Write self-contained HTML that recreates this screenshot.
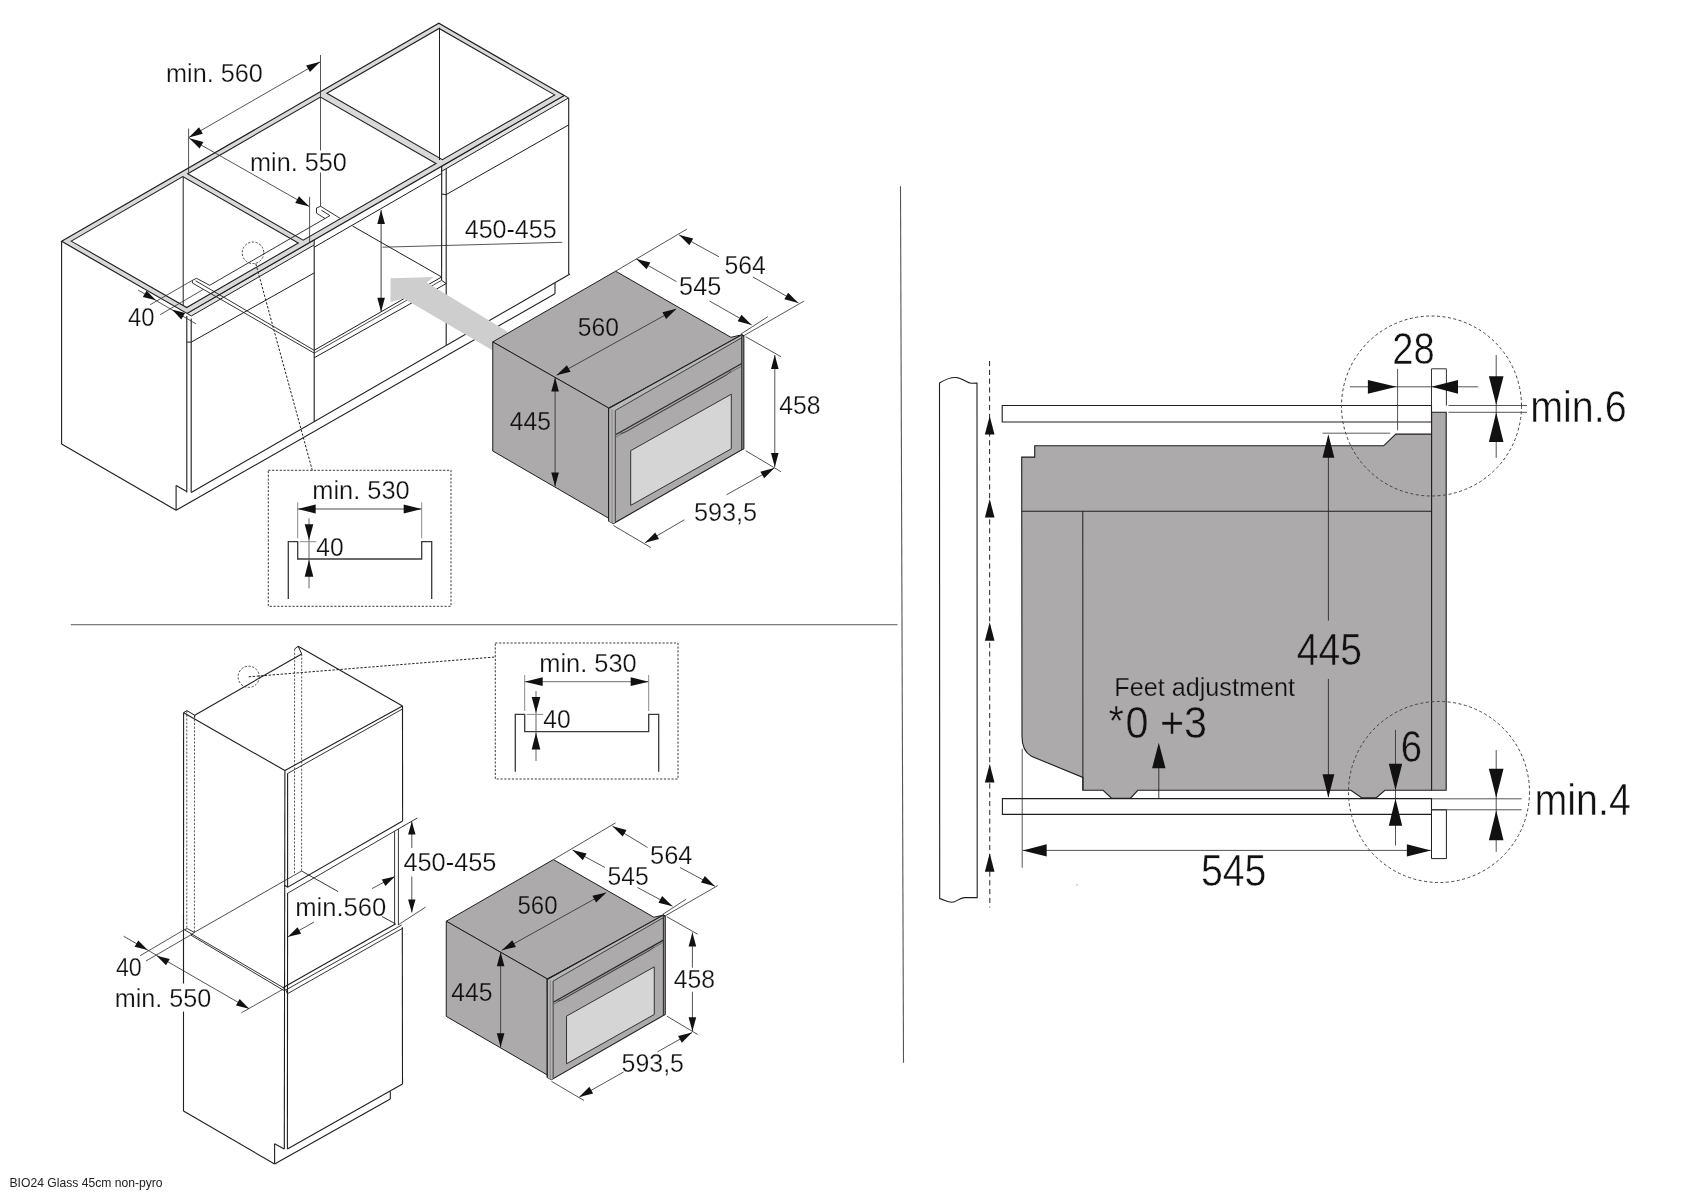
<!DOCTYPE html>
<html><head><meta charset="utf-8"><title>BIO24 installation</title>
<style>
html,body{margin:0;padding:0;background:#fff;}
body{width:1697px;height:1200px;overflow:hidden;}
svg{display:block;font-family:"Liberation Sans",sans-serif;will-change:transform;}
</style></head><body>
<svg width="1697" height="1200" viewBox="0 0 1697 1200">
<rect x="0" y="0" width="1697" height="1200" fill="#fff"/>
<line x1="70.8" y1="624.7" x2="897.5" y2="624.7" stroke="#555" stroke-width="1.1"/>
<line x1="900.5" y1="186.3" x2="903.5" y2="1062.7" stroke="#555" stroke-width="1.1"/>
<line x1="61.6" y1="241.3" x2="61.6" y2="444" stroke="#1e1e1e" stroke-width="1.1"/>
<line x1="61.6" y1="444" x2="176.1" y2="510.3" stroke="#1e1e1e" stroke-width="1.1"/>
<line x1="176.1" y1="485.6" x2="176.1" y2="510.3" stroke="#1e1e1e" stroke-width="1.1"/>
<line x1="176.1" y1="485.6" x2="186.7" y2="491.5" stroke="#1e1e1e" stroke-width="1.1"/>
<line x1="186.8" y1="316" x2="186.8" y2="492.6" stroke="#1e1e1e" stroke-width="1.1"/>
<line x1="191.2" y1="318.5" x2="191.2" y2="492.6" stroke="#1e1e1e" stroke-width="1.1"/>
<line x1="191.2" y1="492.6" x2="570" y2="274" stroke="#1e1e1e" stroke-width="1.1"/>
<line x1="176.1" y1="510.3" x2="555" y2="293.7" stroke="#1e1e1e" stroke-width="1.1"/>
<line x1="555" y1="282.8" x2="555" y2="293.7" stroke="#1e1e1e" stroke-width="1.1"/>
<line x1="568.7" y1="98" x2="568.7" y2="274" stroke="#1e1e1e" stroke-width="1.1"/>
<line x1="183.2" y1="176.8" x2="183.2" y2="305" stroke="#1e1e1e" stroke-width="1"/>
<line x1="439.5" y1="27.7" x2="439.5" y2="160" stroke="#1e1e1e" stroke-width="1"/>
<line x1="191.1" y1="342.2" x2="314" y2="273" stroke="#1e1e1e" stroke-width="1"/>
<line x1="186.8" y1="342" x2="191.1" y2="342.2" stroke="#1e1e1e" stroke-width="1"/>
<line x1="446" y1="194.7" x2="568.7" y2="124.9" stroke="#1e1e1e" stroke-width="1"/>
<line x1="441.7" y1="194" x2="446" y2="194.7" stroke="#1e1e1e" stroke-width="1"/>
<line x1="314.2" y1="245.5" x2="314.2" y2="422" stroke="#1e1e1e" stroke-width="1.1"/>
<line x1="441.7" y1="166" x2="441.6" y2="280.3" stroke="#1e1e1e" stroke-width="1.1"/>
<line x1="446.2" y1="168.5" x2="446.2" y2="345" stroke="#1e1e1e" stroke-width="1.1"/>
<line x1="314.2" y1="247.2" x2="441.7" y2="173.5" stroke="#1e1e1e" stroke-width="1"/>
<line x1="352.5" y1="226" x2="441" y2="276.6" stroke="#1e1e1e" stroke-width="1"/>
<line x1="314.2" y1="350.3" x2="441.6" y2="277" stroke="#1e1e1e" stroke-width="1"/>
<line x1="314.2" y1="353.1" x2="441.6" y2="280.3" stroke="#1e1e1e" stroke-width="0.8"/>
<line x1="314.2" y1="357.8" x2="446.2" y2="283.6" stroke="#1e1e1e" stroke-width="1"/>
<line x1="441.6" y1="280.3" x2="446.2" y2="283.6" stroke="#1e1e1e" stroke-width="1"/>
<polygon points="187,313.4 314.2,239.89 314.2,244.95 191.39,315.92" fill="#e4e3e4" stroke="#1e1e1e" stroke-width="1" stroke-linejoin="miter"/>
<polygon points="441.7,166.2 564.2,95.4 568.59,97.92 441.7,171.26" fill="#e4e3e4" stroke="#1e1e1e" stroke-width="1" stroke-linejoin="miter"/>
<polygon points="61.6,241.3 438.8,23.3 564.2,95.4 187,313.4" fill="#dad9da" stroke="#1e1e1e" stroke-width="1.2" stroke-linejoin="miter"/>
<polygon points="71.18,241.11 182.79,176.61 298.29,243.01 186.67,307.52" fill="#fff" stroke="#1e1e1e" stroke-width="1.1" stroke-linejoin="miter"/>
<polygon points="187.7,173.77 320.47,97.04 435.97,163.44 303.19,240.18" fill="#fff" stroke="#1e1e1e" stroke-width="1.1" stroke-linejoin="miter"/>
<polygon points="326.88,93.33 439.1,28.47 554.6,94.88 442.38,159.73" fill="#fff" stroke="#1e1e1e" stroke-width="1.1" stroke-linejoin="miter"/>
<line x1="183.2" y1="176.8" x2="183.2" y2="305" stroke="#1e1e1e" stroke-width="1"/>
<line x1="439.5" y1="27.7" x2="439.5" y2="160" stroke="#1e1e1e" stroke-width="1"/>
<polyline points="192.4,283 192.4,280.3 196.5,278.3 209.7,285.3" fill="none" stroke="#1e1e1e" stroke-width="0.9" stroke-linejoin="miter"/>
<line x1="209.7" y1="285.3" x2="325" y2="218.5" stroke="#1e1e1e" stroke-width="0.9"/>
<line x1="192.4" y1="283" x2="314.2" y2="353.1" stroke="#1e1e1e" stroke-width="0.9"/>
<line x1="195.7" y1="280.8" x2="314.2" y2="350.3" stroke="#1e1e1e" stroke-width="0.9"/>
<polyline points="316.5,213.2 316.5,208 320.7,206.3 340.5,218.6" fill="none" stroke="#1e1e1e" stroke-width="0.9" stroke-linejoin="miter"/>
<polyline points="316.5,213.2 325,218.5 330,215.6 321.5,210.3" fill="none" stroke="#1e1e1e" stroke-width="0.9" stroke-linejoin="miter"/>
<polygon points="390.5,278.2 433.8,276.9 426.7,282.6 508,332 492,350 403.7,298.5 390.5,302" fill="#cfcecf" stroke="none" stroke-width="1" stroke-linejoin="miter"/>
<line x1="320.5" y1="55" x2="320.5" y2="150.5" stroke="#2a2a2a" stroke-width="0.8"/>
<line x1="320.5" y1="172.5" x2="320.5" y2="206.3" stroke="#2a2a2a" stroke-width="0.8"/>
<line x1="188.6" y1="128.5" x2="188.6" y2="172.5" stroke="#2a2a2a" stroke-width="0.8"/>
<line x1="320.2" y1="61.8" x2="188.8" y2="137.5" stroke="#2a2a2a" stroke-width="0.8"/>
<polygon points="320.2,61.8 309.97,72.08 306.17,65.5" fill="#111" stroke="none" stroke-width="1" stroke-linejoin="miter"/>
<polygon points="188.8,137.5 199.03,127.22 202.83,133.8" fill="#111" stroke="none" stroke-width="1" stroke-linejoin="miter"/>
<text x="166" y="81.7" font-size="25.5" textLength="96.8" lengthAdjust="spacingAndGlyphs" fill="#111" font-weight="normal" stroke="#fff" stroke-width="0.25">min. 560</text>
<line x1="189.3" y1="138.3" x2="309.3" y2="206.5" stroke="#2a2a2a" stroke-width="0.8"/>
<polygon points="189.3,138.3 203.35,141.91 199.59,148.52" fill="#111" stroke="none" stroke-width="1" stroke-linejoin="miter"/>
<polygon points="309.3,206.5 295.25,202.89 299.01,196.28" fill="#111" stroke="none" stroke-width="1" stroke-linejoin="miter"/>
<line x1="309.6" y1="196.8" x2="309.6" y2="242.5" stroke="#2a2a2a" stroke-width="0.8"/>
<text x="250" y="170.5" font-size="25.5" textLength="96.8" lengthAdjust="spacingAndGlyphs" fill="#111" font-weight="normal" stroke="#fff" stroke-width="0.25">min. 550</text>
<line x1="381.1" y1="210.1" x2="381.1" y2="311.7" stroke="#2a2a2a" stroke-width="0.9"/>
<polygon points="381.1,210.1 384.9,224.1 377.3,224.1" fill="#111" stroke="none" stroke-width="1" stroke-linejoin="miter"/>
<polygon points="381.1,311.7 377.3,297.7 384.9,297.7" fill="#111" stroke="none" stroke-width="1" stroke-linejoin="miter"/>
<line x1="382.5" y1="247.2" x2="562.3" y2="242.3" stroke="#2a2a2a" stroke-width="0.8"/>
<text x="464.7" y="237.9" font-size="25.5" textLength="92" lengthAdjust="spacingAndGlyphs" fill="#111" font-weight="normal" stroke="#fff" stroke-width="0.25">450-455</text>
<line x1="138.2" y1="290.1" x2="195.9" y2="323.8" stroke="#2a2a2a" stroke-width="0.8"/>
<line x1="150.2" y1="304.7" x2="192.3" y2="280.4" stroke="#2a2a2a" stroke-width="0.8"/>
<line x1="160.2" y1="314.7" x2="203.3" y2="289.4" stroke="#2a2a2a" stroke-width="0.8"/>
<polygon points="156,300.3 142.88,297.05 146.56,290.63" fill="#111" stroke="none" stroke-width="1" stroke-linejoin="miter"/>
<polygon points="172,309.6 185.07,313.06 181.29,319.42" fill="#111" stroke="none" stroke-width="1" stroke-linejoin="miter"/>
<text x="127.9" y="325.9" font-size="25.5" textLength="26.5" lengthAdjust="spacingAndGlyphs" fill="#111" font-weight="normal" stroke="#fff" stroke-width="0.25">40</text>
<circle cx="253" cy="252.8" r="10.8" fill="none" stroke="#333" stroke-width="0.9" stroke-dasharray="2.2 1.6"/>
<line x1="255.8" y1="263.7" x2="312.3" y2="470.3" stroke="#222" stroke-width="1" stroke-dasharray="2.4 1.6"/>
<polygon points="492.75,341.9 615.6,271.2 730.9,337.3 741.8,334.8 743.7,336 608.6,408" fill="#acaaab" stroke="#1e1e1e" stroke-width="1" stroke-linejoin="miter"/>
<polygon points="492.75,341.9 608.6,408 610,519 492.75,451" fill="#acaaab" stroke="#1e1e1e" stroke-width="1" stroke-linejoin="miter"/>
<polygon points="608.6,408.6 741.8,334.8 743.7,336 743.7,448.8 613.4,523.6 608.6,521" fill="#acaaab" stroke="#1e1e1e" stroke-width="1.1" stroke-linejoin="miter"/>
<polygon points="608.6,408.6 615.3,410.5 615.3,522.3 613.4,523.6 608.6,521" fill="#b6b5b6" stroke="none" stroke-width="1" stroke-linejoin="miter"/>
<polygon points="608.6,408.6 741.8,334.8 741.8,337.7 615.3,410.5" fill="#bab9ba" stroke="none" stroke-width="1" stroke-linejoin="miter"/>
<polygon points="741.8,336 743.7,336 743.7,448.8 741.8,449.6" fill="#b6b5b6" stroke="#1e1e1e" stroke-width="0.8" stroke-linejoin="miter"/>
<polyline points="608.6,521 608.6,408.6 741.8,334.8 743.7,336" fill="none" stroke="#1e1e1e" stroke-width="1.1" stroke-linejoin="miter"/>
<line x1="615.3" y1="410.5" x2="615.3" y2="522.3" stroke="#333" stroke-width="0.9"/>
<line x1="612" y1="409.6" x2="612" y2="523" stroke="#666" stroke-width="0.6"/>
<line x1="615.3" y1="410.5" x2="741.8" y2="337.7" stroke="#333" stroke-width="0.9"/>
<line x1="741.8" y1="336.5" x2="741.8" y2="449.6" stroke="#333" stroke-width="0.9"/>
<line x1="616" y1="434.5" x2="741.8" y2="363.5" stroke="#2a2a2a" stroke-width="1.3"/>
<line x1="616" y1="437" x2="741.8" y2="366" stroke="#555" stroke-width="0.7"/>
<polyline points="620.5,433.6 626,431.8 726.5,375 731,371" fill="none" stroke="#333" stroke-width="0.8" stroke-linejoin="miter"/>
<polygon points="630.7,450.7 731.3,394.2 731.3,448.8 630.7,505.4" fill="#d6d5d6" stroke="#333" stroke-width="1" stroke-linejoin="miter"/>
<line x1="556.5" y1="375.3" x2="675.5" y2="309.3" stroke="#2a2a2a" stroke-width="0.8"/>
<polygon points="556.5,375.3 566.9,365.19 570.59,371.83" fill="#111" stroke="none" stroke-width="1" stroke-linejoin="miter"/>
<polygon points="676.5,308.8 666.1,318.91 662.41,312.26" fill="#111" stroke="none" stroke-width="1" stroke-linejoin="miter"/>
<line x1="555.1" y1="377.5" x2="555.1" y2="486.4" stroke="#2a2a2a" stroke-width="0.8"/>
<polygon points="555.1,377.5 558.9,391.5 551.3,391.5" fill="#111" stroke="none" stroke-width="1" stroke-linejoin="miter"/>
<polygon points="555.1,486.4 551.3,472.4 558.9,472.4" fill="#111" stroke="none" stroke-width="1" stroke-linejoin="miter"/>
<line x1="615.6" y1="271.2" x2="686.9" y2="229.1" stroke="#2a2a2a" stroke-width="0.8"/>
<line x1="679.1" y1="234.9" x2="719" y2="256.8" stroke="#2a2a2a" stroke-width="0.8"/>
<line x1="753" y1="277" x2="798.4" y2="303" stroke="#2a2a2a" stroke-width="0.8"/>
<polygon points="679.1,234.9 693.14,238.54 689.37,245.14" fill="#111" stroke="none" stroke-width="1" stroke-linejoin="miter"/>
<polygon points="798.4,303 784.36,299.36 788.13,292.76" fill="#111" stroke="none" stroke-width="1" stroke-linejoin="miter"/>
<line x1="636.3" y1="258.9" x2="676.5" y2="281.6" stroke="#2a2a2a" stroke-width="0.8"/>
<line x1="709.5" y1="301" x2="751.7" y2="325" stroke="#2a2a2a" stroke-width="0.8"/>
<polygon points="636.3,258.9 650.34,262.56 646.56,269.16" fill="#111" stroke="none" stroke-width="1" stroke-linejoin="miter"/>
<polygon points="751.7,325 737.66,321.34 741.44,314.74" fill="#111" stroke="none" stroke-width="1" stroke-linejoin="miter"/>
<line x1="741" y1="334" x2="767.9" y2="316.6" stroke="#2a2a2a" stroke-width="0.8"/>
<line x1="744" y1="335.6" x2="804.2" y2="301" stroke="#2a2a2a" stroke-width="0.8"/>
<line x1="745.7" y1="336.7" x2="781.1" y2="356.8" stroke="#2a2a2a" stroke-width="0.8"/>
<line x1="745.7" y1="450.7" x2="781.1" y2="471.8" stroke="#2a2a2a" stroke-width="0.8"/>
<line x1="774.8" y1="355" x2="774.8" y2="467" stroke="#2a2a2a" stroke-width="0.8"/>
<polygon points="774.8,355 778.6,369 771,369" fill="#111" stroke="none" stroke-width="1" stroke-linejoin="miter"/>
<polygon points="774.8,467 771,453 778.6,453" fill="#111" stroke="none" stroke-width="1" stroke-linejoin="miter"/>
<line x1="613.4" y1="525.5" x2="650.8" y2="547.5" stroke="#2a2a2a" stroke-width="0.8"/>
<line x1="645" y1="542.8" x2="684.3" y2="519.8" stroke="#2a2a2a" stroke-width="0.8"/>
<line x1="726.5" y1="494.8" x2="774.4" y2="468" stroke="#2a2a2a" stroke-width="0.8"/>
<polygon points="645,542.8 655.22,532.5 659.02,539.08" fill="#111" stroke="none" stroke-width="1" stroke-linejoin="miter"/>
<polygon points="774.4,468 764.18,478.3 760.38,471.72" fill="#111" stroke="none" stroke-width="1" stroke-linejoin="miter"/>
<text x="724.5" y="273.8" font-size="25.5" textLength="41.4" lengthAdjust="spacingAndGlyphs" fill="#111" font-weight="normal" stroke="#fff" stroke-width="0.25">564</text>
<text x="679.1" y="295.2" font-size="25.5" textLength="42.1" lengthAdjust="spacingAndGlyphs" fill="#111" font-weight="normal" stroke="#fff" stroke-width="0.25">545</text>
<text x="577.8" y="336.2" font-size="25.5" textLength="41.1" lengthAdjust="spacingAndGlyphs" fill="#111" font-weight="normal" stroke="#acaaab" stroke-width="0.25">560</text>
<text x="509.8" y="429.7" font-size="25.5" textLength="41.1" lengthAdjust="spacingAndGlyphs" fill="#111" font-weight="normal" stroke="#acaaab" stroke-width="0.25">445</text>
<text x="779.2" y="414.3" font-size="25.5" textLength="41.2" lengthAdjust="spacingAndGlyphs" fill="#111" font-weight="normal" stroke="#fff" stroke-width="0.25">458</text>
<text x="693.9" y="520.5" font-size="25.5" textLength="63.3" lengthAdjust="spacingAndGlyphs" fill="#111" font-weight="normal" stroke="#fff" stroke-width="0.25">593,5</text>
<rect x="268.3" y="470.3" width="182.7" height="136" fill="none" stroke="#3a3a3a" stroke-width="1" stroke-dasharray="2.2 1.6"/>
<text x="312.3" y="499" font-size="25.5" textLength="97.4" lengthAdjust="spacingAndGlyphs" fill="#111" font-weight="normal" stroke="#fff" stroke-width="0.25">min. 530</text>
<line x1="297.7" y1="509" x2="421.7" y2="509" stroke="#8a8a8a" stroke-width="1.3"/>
<polygon points="297.7,509 315.7,504.6 315.7,513.4" fill="#111" stroke="none" stroke-width="1" stroke-linejoin="miter"/>
<polygon points="421.7,509 403.7,513.4 403.7,504.6" fill="#111" stroke="none" stroke-width="1" stroke-linejoin="miter"/>
<line x1="297.7" y1="502.3" x2="297.7" y2="538.3" stroke="#8a8a8a" stroke-width="1"/>
<line x1="421.7" y1="502.3" x2="421.7" y2="538.3" stroke="#8a8a8a" stroke-width="1"/>
<polyline points="288.3,599 288.3,541.7 297.7,541.7 297.7,559 421.7,559 421.7,541.7 431.7,541.7 431.7,599" fill="none" stroke="#3a3a3a" stroke-width="1.3" stroke-linejoin="miter"/>
<line x1="309" y1="518.3" x2="309" y2="588.3" stroke="#555" stroke-width="0.9"/>
<polygon points="309,540.3 304.7,524.3 313.3,524.3" fill="#111" stroke="none" stroke-width="1" stroke-linejoin="miter"/>
<polygon points="309,559.7 313.3,576.7 304.7,576.7" fill="#111" stroke="none" stroke-width="1" stroke-linejoin="miter"/>
<line x1="299.7" y1="541.7" x2="316.3" y2="541.7" stroke="#8a8a8a" stroke-width="1"/>
<text x="316.3" y="555.7" font-size="25.5" textLength="27.4" lengthAdjust="spacingAndGlyphs" fill="#111" font-weight="normal" stroke="#fff" stroke-width="0.25">40</text>
<line x1="183.6" y1="712.5" x2="183.5" y2="983.4" stroke="#1e1e1e" stroke-width="1.1"/>
<line x1="183.5" y1="1011.6" x2="183.5" y2="1111.1" stroke="#1e1e1e" stroke-width="1.1"/>
<line x1="186.8" y1="711" x2="186.8" y2="929" stroke="#333" stroke-width="0.8" stroke-dasharray="2.2 1.5"/>
<line x1="194.5" y1="715.5" x2="194.4" y2="932.3" stroke="#333" stroke-width="0.8" stroke-dasharray="2.2 1.5"/>
<polyline points="183.7,712.6 186.8,710.6 194.7,715.2 194.7,717.5" fill="none" stroke="#1e1e1e" stroke-width="1" stroke-linejoin="miter"/>
<line x1="194.7" y1="715.2" x2="301.7" y2="653.9" stroke="#1e1e1e" stroke-width="1.1"/>
<polyline points="294.6,649 298.2,646.3 301.7,653.9" fill="none" stroke="#1e1e1e" stroke-width="1" stroke-linejoin="miter"/>
<line x1="298.2" y1="646.3" x2="402.5" y2="706" stroke="#1e1e1e" stroke-width="1.1"/>
<line x1="183.7" y1="712.8" x2="284.9" y2="770.5" stroke="#1e1e1e" stroke-width="1.1"/>
<line x1="284.9" y1="770.5" x2="402.5" y2="706" stroke="#1e1e1e" stroke-width="1.1"/>
<line x1="287.6" y1="773.5" x2="402.5" y2="709" stroke="#1e1e1e" stroke-width="0.9"/>
<line x1="402.5" y1="706" x2="402.6" y2="821" stroke="#1e1e1e" stroke-width="1.1"/>
<line x1="284.9" y1="770.5" x2="284.3" y2="1149" stroke="#1e1e1e" stroke-width="1.1"/>
<line x1="287.6" y1="773.5" x2="287.6" y2="887.2" stroke="#1e1e1e" stroke-width="1.1"/>
<line x1="287.6" y1="892.9" x2="287.4" y2="1149" stroke="#1e1e1e" stroke-width="1.1"/>
<line x1="294.6" y1="649" x2="294.5" y2="874.5" stroke="#333" stroke-width="0.8" stroke-dasharray="2.2 1.5"/>
<line x1="301.7" y1="654" x2="301.6" y2="871" stroke="#333" stroke-width="0.8" stroke-dasharray="2.2 1.5"/>
<polyline points="284.2,885 287.7,887.2 402.6,821" fill="none" stroke="#1e1e1e" stroke-width="1.1" stroke-linejoin="miter"/>
<line x1="287.7" y1="893.2" x2="417.3" y2="818" stroke="#1e1e1e" stroke-width="0.9"/>
<line x1="394.6" y1="831.2" x2="394.6" y2="924" stroke="#1e1e1e" stroke-width="0.9"/>
<line x1="398.4" y1="828.8" x2="398.4" y2="925" stroke="#1e1e1e" stroke-width="0.9"/>
<line x1="301.6" y1="871" x2="338" y2="891.5" stroke="#1e1e1e" stroke-width="0.9"/>
<line x1="382" y1="916.5" x2="394.9" y2="923.5" stroke="#1e1e1e" stroke-width="0.9"/>
<line x1="283.3" y1="987.5" x2="395.8" y2="923.7" stroke="#1e1e1e" stroke-width="1.1"/>
<line x1="285.8" y1="990" x2="401.7" y2="925" stroke="#1e1e1e" stroke-width="0.9"/>
<line x1="287.5" y1="993.7" x2="402.5" y2="928.3" stroke="#1e1e1e" stroke-width="0.9"/>
<polyline points="283.3,987.5 285.8,990 287.5,993.7" fill="none" stroke="#1e1e1e" stroke-width="0.9" stroke-linejoin="miter"/>
<line x1="194.3" y1="932.4" x2="301.6" y2="871" stroke="#1e1e1e" stroke-width="0.8"/>
<line x1="184.3" y1="929.7" x2="283.9" y2="988" stroke="#1e1e1e" stroke-width="0.9"/>
<line x1="190.7" y1="935" x2="283.9" y2="990.5" stroke="#1e1e1e" stroke-width="0.9"/>
<polyline points="184.3,929.7 187.2,928.6 194.3,932.4 190.7,935" fill="none" stroke="#1e1e1e" stroke-width="0.9" stroke-linejoin="miter"/>
<line x1="402.3" y1="927.3" x2="402.5" y2="1084" stroke="#1e1e1e" stroke-width="1.1"/>
<line x1="183.5" y1="1111.1" x2="274.6" y2="1164" stroke="#1e1e1e" stroke-width="1.1"/>
<line x1="274.6" y1="1143.7" x2="274.6" y2="1164" stroke="#1e1e1e" stroke-width="1.1"/>
<line x1="274.6" y1="1143.7" x2="284.3" y2="1149" stroke="#1e1e1e" stroke-width="1.1"/>
<line x1="287.4" y1="1149" x2="402.5" y2="1084" stroke="#1e1e1e" stroke-width="1.1"/>
<line x1="274.6" y1="1164" x2="390.3" y2="1099" stroke="#1e1e1e" stroke-width="1.1"/>
<line x1="390.3" y1="1091.5" x2="390.3" y2="1099" stroke="#1e1e1e" stroke-width="1.1"/>
<line x1="123.6" y1="936.2" x2="249.1" y2="1008.7" stroke="#2a2a2a" stroke-width="0.8"/>
<polygon points="147.7,950.1 134.59,946.81 138.29,940.4" fill="#111" stroke="none" stroke-width="1" stroke-linejoin="miter"/>
<polygon points="156.6,955.7 169.72,958.95 166.04,965.37" fill="#111" stroke="none" stroke-width="1" stroke-linejoin="miter"/>
<polygon points="249.1,1008.7 235.98,1005.45 239.66,999.03" fill="#111" stroke="none" stroke-width="1" stroke-linejoin="miter"/>
<line x1="140.1" y1="955.7" x2="184.3" y2="929.7" stroke="#2a2a2a" stroke-width="0.8"/>
<line x1="146" y1="961" x2="190.7" y2="935" stroke="#2a2a2a" stroke-width="0.8"/>
<line x1="241.4" y1="1012.8" x2="283.9" y2="988.7" stroke="#2a2a2a" stroke-width="0.8"/>
<text x="115.9" y="975.7" font-size="25.5" textLength="25.9" lengthAdjust="spacingAndGlyphs" fill="#111" font-weight="normal" stroke="#fff" stroke-width="0.25">40</text>
<text x="114.7" y="1006.9" font-size="25.5" textLength="96.7" lengthAdjust="spacingAndGlyphs" fill="#111" font-weight="normal" stroke="#fff" stroke-width="0.25">min. 550</text>
<line x1="288" y1="936.8" x2="314" y2="922" stroke="#2a2a2a" stroke-width="0.8"/>
<line x1="372" y1="888.6" x2="394.9" y2="876.4" stroke="#2a2a2a" stroke-width="0.8"/>
<polygon points="288,936.8 297.5,927.18 301.14,933.63" fill="#111" stroke="none" stroke-width="1" stroke-linejoin="miter"/>
<polygon points="394.9,876.4 385.4,886.02 381.76,879.57" fill="#111" stroke="none" stroke-width="1" stroke-linejoin="miter"/>
<text x="295.2" y="915.6" font-size="25.5" textLength="91.2" lengthAdjust="spacingAndGlyphs" fill="#111" font-weight="normal" stroke="#fff" stroke-width="0.25">min.560</text>
<line x1="398" y1="925" x2="425.6" y2="907.1" stroke="#2a2a2a" stroke-width="0.8"/>
<line x1="411.8" y1="821.5" x2="411.8" y2="848" stroke="#2a2a2a" stroke-width="0.8"/>
<line x1="411.8" y1="876.4" x2="411.8" y2="912.4" stroke="#2a2a2a" stroke-width="0.8"/>
<polygon points="411.8,821.5 415.5,834.5 408.1,834.5" fill="#111" stroke="none" stroke-width="1" stroke-linejoin="miter"/>
<polygon points="411.8,912.4 408.1,899.4 415.5,899.4" fill="#111" stroke="none" stroke-width="1" stroke-linejoin="miter"/>
<text x="403.4" y="871" font-size="25.5" textLength="93.1" lengthAdjust="spacingAndGlyphs" fill="#111" font-weight="normal" stroke="#fff" stroke-width="0.25">450-455</text>
<circle cx="248.7" cy="676.8" r="10.6" fill="none" stroke="#333" stroke-width="0.9" stroke-dasharray="2.2 1.6"/>
<line x1="248.7" y1="676.8" x2="495.3" y2="657" stroke="#222" stroke-width="1" stroke-dasharray="2.4 1.6"/>
<rect x="495.3" y="643" width="182.7" height="136" fill="none" stroke="#3a3a3a" stroke-width="1" stroke-dasharray="2.2 1.6"/>
<text x="539.3" y="671.7" font-size="25.5" textLength="97.4" lengthAdjust="spacingAndGlyphs" fill="#111" font-weight="normal" stroke="#fff" stroke-width="0.25">min. 530</text>
<line x1="524.7" y1="681.7" x2="648.7" y2="681.7" stroke="#8a8a8a" stroke-width="1.3"/>
<polygon points="524.7,681.7 542.7,677.3 542.7,686.1" fill="#111" stroke="none" stroke-width="1" stroke-linejoin="miter"/>
<polygon points="648.7,681.7 630.7,686.1 630.7,677.3" fill="#111" stroke="none" stroke-width="1" stroke-linejoin="miter"/>
<line x1="524.7" y1="675" x2="524.7" y2="711" stroke="#8a8a8a" stroke-width="1"/>
<line x1="648.7" y1="675" x2="648.7" y2="711" stroke="#8a8a8a" stroke-width="1"/>
<polyline points="515.3,771.7 515.3,714.4 524.7,714.4 524.7,731.7 648.7,731.7 648.7,714.4 658.7,714.4 658.7,771.7" fill="none" stroke="#3a3a3a" stroke-width="1.3" stroke-linejoin="miter"/>
<line x1="536" y1="691" x2="536" y2="761" stroke="#555" stroke-width="0.9"/>
<polygon points="536,713 531.7,697 540.3,697" fill="#111" stroke="none" stroke-width="1" stroke-linejoin="miter"/>
<polygon points="536,732.4 540.3,749.4 531.7,749.4" fill="#111" stroke="none" stroke-width="1" stroke-linejoin="miter"/>
<line x1="526.7" y1="714.4" x2="543.3" y2="714.4" stroke="#8a8a8a" stroke-width="1"/>
<text x="543.3" y="728.4" font-size="25.5" textLength="27.4" lengthAdjust="spacingAndGlyphs" fill="#111" font-weight="normal" stroke="#fff" stroke-width="0.25">40</text>
<polygon points="446.25,921.25 553.38,859.6 653.92,917.24 663.42,915.06 665.08,916.11 547.27,978.89" fill="#acaaab" stroke="#1e1e1e" stroke-width="1" stroke-linejoin="miter"/>
<polygon points="446.25,921.25 547.27,978.89 548.49,1075.68 446.25,1016.39" fill="#acaaab" stroke="#1e1e1e" stroke-width="1" stroke-linejoin="miter"/>
<polygon points="547.27,979.41 663.42,915.06 665.08,916.11 665.08,1014.47 551.46,1079.69 547.27,1077.43" fill="#acaaab" stroke="#1e1e1e" stroke-width="1.1" stroke-linejoin="miter"/>
<polygon points="547.27,979.41 553.11,981.07 553.11,1078.56 551.46,1079.69 547.27,1077.43" fill="#b6b5b6" stroke="none" stroke-width="1" stroke-linejoin="miter"/>
<polygon points="547.27,979.41 663.42,915.06 663.42,917.59 553.11,981.07" fill="#bab9ba" stroke="none" stroke-width="1" stroke-linejoin="miter"/>
<polygon points="663.42,916.11 665.08,916.11 665.08,1014.47 663.42,1015.16" fill="#b6b5b6" stroke="#1e1e1e" stroke-width="0.8" stroke-linejoin="miter"/>
<polyline points="547.27,1077.43 547.27,979.41 663.42,915.06 665.08,916.11" fill="none" stroke="#1e1e1e" stroke-width="1.1" stroke-linejoin="miter"/>
<line x1="553.11" y1="981.07" x2="553.11" y2="1078.56" stroke="#333" stroke-width="0.9"/>
<line x1="550.24" y1="980.28" x2="550.24" y2="1079.17" stroke="#666" stroke-width="0.6"/>
<line x1="553.11" y1="981.07" x2="663.42" y2="917.59" stroke="#333" stroke-width="0.9"/>
<line x1="663.42" y1="916.54" x2="663.42" y2="1015.16" stroke="#333" stroke-width="0.9"/>
<line x1="553.72" y1="1002" x2="663.42" y2="940.09" stroke="#2a2a2a" stroke-width="1.3"/>
<line x1="553.72" y1="1004.18" x2="663.42" y2="942.27" stroke="#555" stroke-width="0.7"/>
<polyline points="557.65,1001.21 562.44,999.64 650.08,950.11 654,946.63" fill="none" stroke="#333" stroke-width="0.8" stroke-linejoin="miter"/>
<polygon points="566.54,1016.12 654.27,966.86 654.27,1014.47 566.54,1063.82" fill="#d6d5d6" stroke="#333" stroke-width="1" stroke-linejoin="miter"/>
<line x1="501.84" y1="950.37" x2="605.61" y2="892.82" stroke="#2a2a2a" stroke-width="0.8"/>
<polygon points="501.84,950.37 512.24,940.26 515.93,946.91" fill="#111" stroke="none" stroke-width="1" stroke-linejoin="miter"/>
<polygon points="606.48,892.39 596.08,902.5 592.39,895.85" fill="#111" stroke="none" stroke-width="1" stroke-linejoin="miter"/>
<line x1="500.62" y1="952.29" x2="500.62" y2="1047.25" stroke="#2a2a2a" stroke-width="0.8"/>
<polygon points="500.62,952.29 504.42,966.29 496.82,966.29" fill="#111" stroke="none" stroke-width="1" stroke-linejoin="miter"/>
<polygon points="500.62,1047.25 496.82,1033.25 504.42,1033.25" fill="#111" stroke="none" stroke-width="1" stroke-linejoin="miter"/>
<line x1="553.38" y1="859.6" x2="615.55" y2="822.89" stroke="#2a2a2a" stroke-width="0.8"/>
<line x1="612.5" y1="826.25" x2="647.5" y2="847.5" stroke="#2a2a2a" stroke-width="0.8"/>
<line x1="680" y1="867.5" x2="715" y2="886.25" stroke="#2a2a2a" stroke-width="0.8"/>
<polygon points="612.5,826.25 626.5,830.04 622.66,836.6" fill="#111" stroke="none" stroke-width="1" stroke-linejoin="miter"/>
<polygon points="715,886.25 701,882.46 704.84,875.9" fill="#111" stroke="none" stroke-width="1" stroke-linejoin="miter"/>
<line x1="572.5" y1="850" x2="605" y2="867.5" stroke="#2a2a2a" stroke-width="0.8"/>
<line x1="637.5" y1="887.5" x2="672.5" y2="906.25" stroke="#2a2a2a" stroke-width="0.8"/>
<polygon points="572.5,850 586.57,853.55 582.84,860.18" fill="#111" stroke="none" stroke-width="1" stroke-linejoin="miter"/>
<polygon points="672.5,906.25 658.43,902.7 662.16,896.07" fill="#111" stroke="none" stroke-width="1" stroke-linejoin="miter"/>
<line x1="662.72" y1="914.36" x2="686.18" y2="899.19" stroke="#2a2a2a" stroke-width="0.8"/>
<line x1="665.34" y1="915.76" x2="717.83" y2="885.59" stroke="#2a2a2a" stroke-width="0.8"/>
<line x1="666.82" y1="916.72" x2="697.69" y2="934.24" stroke="#2a2a2a" stroke-width="0.8"/>
<line x1="666.82" y1="1016.12" x2="697.69" y2="1034.52" stroke="#2a2a2a" stroke-width="0.8"/>
<line x1="692.4" y1="932.5" x2="692.4" y2="967.7" stroke="#2a2a2a" stroke-width="0.8"/>
<line x1="692.4" y1="991.7" x2="692.4" y2="1031.25" stroke="#2a2a2a" stroke-width="0.8"/>
<polygon points="692.4,932.5 696.2,946.5 688.6,946.5" fill="#111" stroke="none" stroke-width="1" stroke-linejoin="miter"/>
<polygon points="692.4,1031.25 688.6,1017.25 696.2,1017.25" fill="#111" stroke="none" stroke-width="1" stroke-linejoin="miter"/>
<line x1="551.46" y1="1081.35" x2="584.07" y2="1100.53" stroke="#2a2a2a" stroke-width="0.8"/>
<line x1="579.1" y1="1097.1" x2="623.6" y2="1072" stroke="#2a2a2a" stroke-width="0.8"/>
<line x1="657.5" y1="1051.8" x2="692.1" y2="1032.4" stroke="#2a2a2a" stroke-width="0.8"/>
<polygon points="579.1,1097.1 589.36,1086.85 593.14,1093.44" fill="#111" stroke="none" stroke-width="1" stroke-linejoin="miter"/>
<polygon points="692.1,1032.4 681.84,1042.65 678.06,1036.06" fill="#111" stroke="none" stroke-width="1" stroke-linejoin="miter"/>
<text x="650" y="863.75" font-size="25.5" textLength="42.5" lengthAdjust="spacingAndGlyphs" fill="#111" font-weight="normal" stroke="#fff" stroke-width="0.25">564</text>
<text x="607.5" y="885" font-size="25.5" textLength="41.25" lengthAdjust="spacingAndGlyphs" fill="#111" font-weight="normal" stroke="#fff" stroke-width="0.25">545</text>
<text x="517.5" y="913.75" font-size="25.5" textLength="40" lengthAdjust="spacingAndGlyphs" fill="#111" font-weight="normal" stroke="#acaaab" stroke-width="0.25">560</text>
<text x="451.25" y="1001.25" font-size="25.5" textLength="41.25" lengthAdjust="spacingAndGlyphs" fill="#111" font-weight="normal" stroke="#acaaab" stroke-width="0.25">445</text>
<text x="673.75" y="988.3" font-size="25.5" textLength="41.25" lengthAdjust="spacingAndGlyphs" fill="#111" font-weight="normal" stroke="#fff" stroke-width="0.25">458</text>
<text x="621.6" y="1071.6" font-size="25.5" textLength="62.3" lengthAdjust="spacingAndGlyphs" fill="#111" font-weight="normal" stroke="#fff" stroke-width="0.25">593,5</text>
<path d="M939.5,383 C945,379.5 950,377.3 956,377.5 C963,377.8 966.5,383.3 971.5,383.3 L977,383 L977.2,897.6 L964.5,897.6 C959,897.8 956.5,902.3 952,902.3 C947,902.3 943.5,899.3 939.7,898.6 Z" fill="#fff" stroke="#1e1e1e" stroke-width="1.1"/>
<line x1="989.6" y1="361" x2="989.8" y2="907.5" stroke="#222" stroke-width="1" stroke-dasharray="5.2 3.6"/>
<polygon points="989.7,416 994.5,434.5 984.9,434.5" fill="#111" stroke="none" stroke-width="1" stroke-linejoin="miter"/>
<polygon points="989.7,499 994.5,517.5 984.9,517.5" fill="#111" stroke="none" stroke-width="1" stroke-linejoin="miter"/>
<polygon points="989.7,622.3 994.5,640.8 984.9,640.8" fill="#111" stroke="none" stroke-width="1" stroke-linejoin="miter"/>
<polygon points="989.7,764 994.5,782.5 984.9,782.5" fill="#111" stroke="none" stroke-width="1" stroke-linejoin="miter"/>
<polygon points="989.7,853.3 994.5,871.8 984.9,871.8" fill="#111" stroke="none" stroke-width="1" stroke-linejoin="miter"/>
<polygon points="1002.2,405.5 1431.5,405.5 1431.5,422 1002.2,422" fill="#fff" stroke="#1e1e1e" stroke-width="1.1" stroke-linejoin="miter"/>
<polyline points="1431.5,405.5 1431.5,368.8 1446.4,368.8 1446.4,405.5" fill="none" stroke="#333" stroke-width="1" stroke-linejoin="miter"/>
<path d="M1034.7,445.8 L1383.6,445.8 L1395.8,434.1 L1431.6,434.1 L1431.6,790.3 L1384.9,790.3 L1376.4,797.7 L1361.5,797.7 L1350.9,790.3 L1137.8,790.3 L1130.4,798.4 L1111.8,798.4 L1103.1,790.3 L1082.9,790.3 L1082.9,777.4 L1031.4,756.3 Q1022,751 1022,736.5 L1021.7,457.1 L1034.7,457.1 Z" fill="#acaaab" stroke="#1e1e1e" stroke-width="1.1"/>
<polygon points="1431.6,412.3 1446.2,412.3 1446.2,790.3 1431.6,790.3" fill="#acaaab" stroke="#1e1e1e" stroke-width="1.1" stroke-linejoin="miter"/>
<line x1="1021.7" y1="511.2" x2="1431.6" y2="511.2" stroke="#1e1e1e" stroke-width="1.1"/>
<line x1="1082.8" y1="511.2" x2="1082.9" y2="790.3" stroke="#1e1e1e" stroke-width="1"/>
<polygon points="1002.4,798.6 1431.5,798.6 1431.5,814.4 1002.4,814.4" fill="#fff" stroke="#1e1e1e" stroke-width="1.1" stroke-linejoin="miter"/>
<polygon points="1431.5,809.8 1446.4,809.8 1446.4,858.6 1431.5,858.6" fill="#fff" stroke="#1e1e1e" stroke-width="1" stroke-linejoin="miter"/>
<line x1="1322.6" y1="433.2" x2="1390.3" y2="433.2" stroke="#333" stroke-width="0.8"/>
<line x1="1328.4" y1="436" x2="1328.4" y2="620.6" stroke="#2a2a2a" stroke-width="0.9"/>
<line x1="1328.4" y1="678.9" x2="1328.4" y2="797" stroke="#2a2a2a" stroke-width="0.9"/>
<polygon points="1328.4,434.3 1334.3,457.8 1322.5,457.8" fill="#111" stroke="none" stroke-width="1" stroke-linejoin="miter"/>
<polygon points="1328.4,797.7 1322.5,774.2 1334.3,774.2" fill="#111" stroke="none" stroke-width="1" stroke-linejoin="miter"/>
<text x="1296.8" y="665.3" font-size="43.5" textLength="65.1" lengthAdjust="spacingAndGlyphs" fill="#111" font-weight="normal" stroke="#acaaab" stroke-width="0.5">445</text>
<line x1="1349.9" y1="386.8" x2="1478.2" y2="386.8" stroke="#2a2a2a" stroke-width="0.8"/>
<line x1="1397.6" y1="368.8" x2="1397.6" y2="430.3" stroke="#2a2a2a" stroke-width="0.8"/>
<polygon points="1396.5,386.8 1367.9,393.7 1367.9,379.9" fill="#111" stroke="none" stroke-width="1" stroke-linejoin="miter"/>
<polygon points="1431.5,386.8 1458,379.9 1458,393.7" fill="#111" stroke="none" stroke-width="1" stroke-linejoin="miter"/>
<text x="1392.3" y="363.5" font-size="44.5" textLength="42.4" lengthAdjust="spacingAndGlyphs" fill="#111" font-weight="normal" stroke="#fff" stroke-width="0.5">28</text>
<line x1="1448.5" y1="405.5" x2="1527" y2="405.5" stroke="#2a2a2a" stroke-width="0.8"/>
<line x1="1448.5" y1="412.3" x2="1527" y2="412.3" stroke="#2a2a2a" stroke-width="0.8"/>
<line x1="1496.2" y1="355" x2="1496.2" y2="457.9" stroke="#2a2a2a" stroke-width="0.8"/>
<polygon points="1496.2,404.9 1488.9,376.2 1503.5,376.2" fill="#111" stroke="none" stroke-width="1" stroke-linejoin="miter"/>
<polygon points="1496.2,412.5 1503.5,442 1488.9,442" fill="#111" stroke="none" stroke-width="1" stroke-linejoin="miter"/>
<text x="1530.2" y="421.8" font-size="44" textLength="96.5" lengthAdjust="spacingAndGlyphs" fill="#111" font-weight="normal" stroke="#fff" stroke-width="0.5">min.6</text>
<circle cx="1431.5" cy="406" r="90" fill="none" stroke="#444" stroke-width="1" stroke-dasharray="3 2.5"/>
<circle cx="1439" cy="792" r="90.5" fill="none" stroke="#444" stroke-width="1" stroke-dasharray="3 2.5"/>
<line x1="1395.5" y1="729.9" x2="1395.5" y2="845.5" stroke="#2a2a2a" stroke-width="0.8"/>
<polygon points="1395.5,790.3 1388.8,763.8 1402.2,763.8" fill="#111" stroke="none" stroke-width="1" stroke-linejoin="miter"/>
<polygon points="1395.5,798.8 1402.2,825.8 1388.8,825.8" fill="#111" stroke="none" stroke-width="1" stroke-linejoin="miter"/>
<text x="1400.8" y="761.7" font-size="44.5" textLength="21.2" lengthAdjust="spacingAndGlyphs" fill="#111" font-weight="normal" stroke="#acaaab" stroke-width="0.5">6</text>
<line x1="1431.5" y1="798.8" x2="1521.7" y2="798.8" stroke="#2a2a2a" stroke-width="0.8"/>
<line x1="1431.5" y1="809.8" x2="1521.7" y2="809.8" stroke="#2a2a2a" stroke-width="0.8"/>
<line x1="1496.2" y1="750" x2="1496.2" y2="851.8" stroke="#2a2a2a" stroke-width="0.8"/>
<polygon points="1496.2,797.7 1488.9,768.7 1503.5,768.7" fill="#111" stroke="none" stroke-width="1" stroke-linejoin="miter"/>
<polygon points="1496.2,810.5 1503.5,840.2 1488.9,840.2" fill="#111" stroke="none" stroke-width="1" stroke-linejoin="miter"/>
<text x="1534.4" y="814.7" font-size="44" textLength="96.5" lengthAdjust="spacingAndGlyphs" fill="#111" font-weight="normal" stroke="#fff" stroke-width="0.5">min.4</text>
<line x1="1022.2" y1="748.9" x2="1022.2" y2="867.7" stroke="#2a2a2a" stroke-width="0.8"/>
<line x1="1022.7" y1="850.4" x2="1430.9" y2="850.4" stroke="#2a2a2a" stroke-width="0.8"/>
<polygon points="1022.7,850.4 1046.7,844.2 1046.7,856.6" fill="#111" stroke="none" stroke-width="1" stroke-linejoin="miter"/>
<polygon points="1430.9,850.4 1406.9,856.6 1406.9,844.2" fill="#111" stroke="none" stroke-width="1" stroke-linejoin="miter"/>
<text x="1200.9" y="886.3" font-size="43.5" textLength="65.6" lengthAdjust="spacingAndGlyphs" fill="#111" font-weight="normal" stroke="#fff" stroke-width="0.5">545</text>
<text x="1114.3" y="696.4" font-size="25" textLength="180.7" lengthAdjust="spacingAndGlyphs" fill="#111" font-weight="normal" stroke="#acaaab" stroke-width="0.25">Feet adjustment</text>
<text x="1108.6" y="735" font-size="42" textLength="15.4" lengthAdjust="spacingAndGlyphs" fill="#111" font-weight="normal" stroke="#acaaab" stroke-width="0.5">*</text>
<text x="1125.4" y="737.8" font-size="43.5" textLength="81.7" lengthAdjust="spacingAndGlyphs" fill="#111" font-weight="normal" stroke="#acaaab" stroke-width="0.5">0 +3</text>
<line x1="1158.8" y1="798.4" x2="1158.8" y2="760" stroke="#2a2a2a" stroke-width="0.9"/>
<polygon points="1158.8,742.7 1165.5,768.2 1152.1,768.2" fill="#111" stroke="none" stroke-width="1" stroke-linejoin="miter"/>
<circle cx="1077" cy="885" r="0.7" fill="#999"/>
<text x="9.5" y="1187" font-size="13" textLength="153.1" lengthAdjust="spacingAndGlyphs" fill="#222" font-weight="normal">BIO24 Glass 45cm non-pyro</text>
</svg>
</body></html>
